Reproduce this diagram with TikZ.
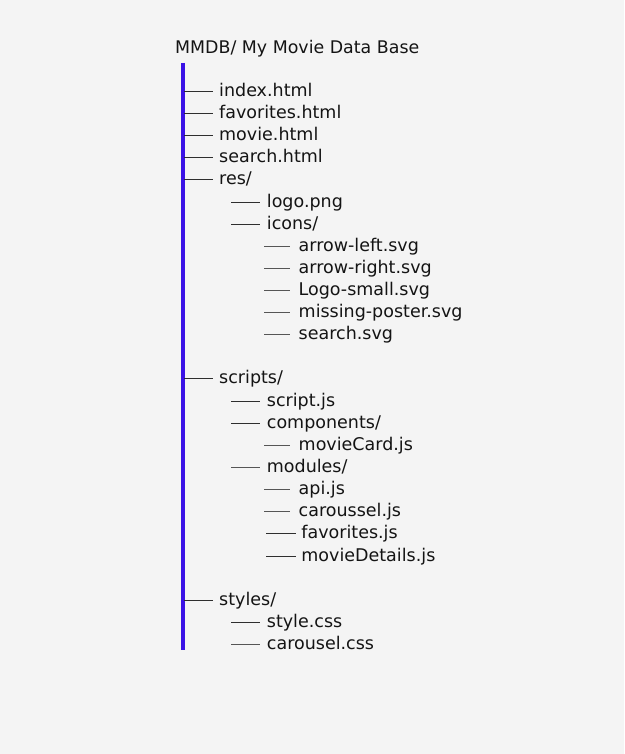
\documentclass[tikz,border=0pt]{standalone}
\usepackage{fontspec}
\setmainfont{DejaVu Sans}
\definecolor{bg}{HTML}{F4F4F4}
\definecolor{barblue}{HTML}{3A12E6}
\definecolor{txt}{HTML}{141414}
\definecolor{lineA}{HTML}{2E2E2E}
\definecolor{lineB}{HTML}{555555}
\tikzset{
  lbl/.style={anchor=base west, inner sep=0pt, text=txt, font=\fontsize{17.5}{21}\selectfont},
  ttl/.style={anchor=base west, inner sep=0pt, text=txt, font=\fontsize{17.4}{20}\selectfont},
  connA/.style={draw=lineA, line width=1pt},
  connB/.style={draw=lineB, line width=1pt},
  treebar/.style={draw=barblue, line width=4pt}
}
% name, y (line), line start x, line end x, text x, text, style
\newcommand\fentry[7]{%
  \node[lbl] (#1) at (#5,#2+5.3) {#6};
  \coordinate (#1s) at (#3,#2);
  \coordinate (#1e) at (#4,#2);
  \draw[#7] (#1s) -- (#1e);
}
\begin{document}
\begin{tikzpicture}[x=1pt,y=-1pt]
\fill[bg] (0,0) rectangle (624,754);
\useasboundingbox (0,0) rectangle (624,754);
\node[ttl] (title) at (175,53.8) {MMDB/ My Movie Data Base};
\coordinate (bartop) at (182.7,63);
\coordinate (barbot) at (182.7,650);
\draw[treebar] (bartop) -- (barbot);
% level 1
\fentry{index}{91.5}{184}{213}{219}{index.html}{connA}
\fentry{favh}{113.5}{184}{213}{219}{favorites.html}{connA}
\fentry{movieh}{135.5}{184}{213}{219}{movie.html}{connA}
\fentry{searchh}{157.5}{184}{213}{219}{search.html}{connA}
\fentry{res}{179.5}{184}{213}{219}{res/}{connA}
\fentry{logo}{202.5}{231}{260}{266.7}{logo.png}{connA}
\fentry{icons}{224.5}{231}{260}{266.7}{icons/}{connA}
\fentry{al}{246.5}{264}{289.5}{298.5}{arrow-left.svg}{connB}
\fentry{ar}{268.5}{264}{289.5}{298.5}{arrow-right.svg}{connB}
\fentry{ls}{290.5}{264}{289.5}{298.5}{Logo-small.svg}{connB}
\fentry{mp}{312.5}{264}{289.5}{298.5}{missing-poster.svg}{connB}
\fentry{ss}{334.5}{264}{289.5}{298.5}{search.svg}{connB}
% scripts
\fentry{scripts}{378.5}{184}{213}{219}{scripts/}{connA}
\fentry{scriptjs}{401.5}{231}{260}{266.7}{script.js}{connA}
\fentry{comp}{423.5}{231}{260}{266.7}{components/}{connA}
\fentry{mc}{445.5}{264}{289.5}{298.5}{movieCard.js}{connB}
\fentry{mods}{467.5}{231}{260}{266.7}{modules/}{connB}
\fentry{api}{489.5}{264}{289.5}{298.5}{api.js}{connB}
\fentry{car}{511.5}{264}{289.5}{298.5}{caroussel.js}{connB}
\fentry{favjs}{533.5}{266}{296}{301.2}{favorites.js}{connA}
\fentry{md}{556.5}{266}{296}{301.2}{movieDetails.js}{connA}
% styles
\fentry{styles}{600.5}{184}{213}{219}{styles/}{connA}
\fentry{stylecss}{622.5}{231}{260}{266.7}{style.css}{connA}
\fentry{carcss}{644.5}{231}{260}{266.7}{carousel.css}{connB}
\end{tikzpicture}
\end{document}
